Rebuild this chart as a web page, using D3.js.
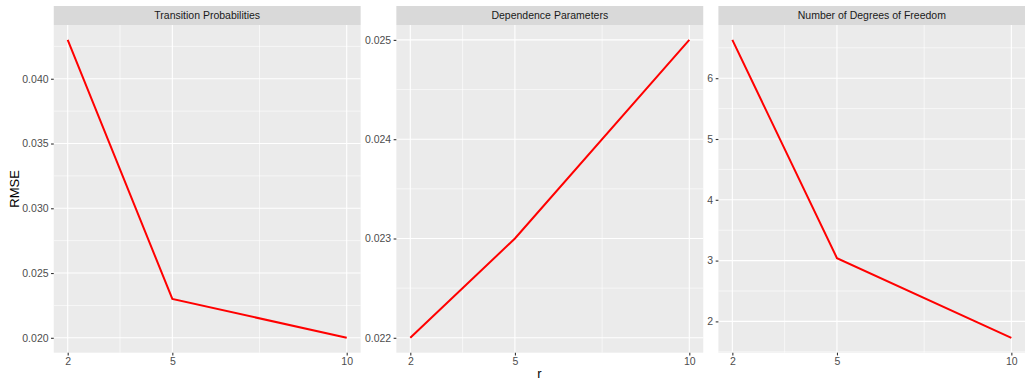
<!DOCTYPE html>
<html>

<head>
    <meta charset="utf-8" />
    <script src="https://d3js.org/d3.v7.min.js"></script>
    <style>
        body { margin: 0; background: #fff; }
        text { font-family: "Liberation Sans", Arial, sans-serif; }
    </style>
</head>

<body>
    <script>
        // data
        const rValues = [2, 5, 10];
        const panelTitles = ['Transition Probabilities', 'Dependence Parameters', 'Number of Degrees of Freedom'];
        const transitionRmse = [0.043, 0.023, 0.020];
        const dependenceRmse = [0.022, 0.023, 0.025];
        const dofRmse = [6.63, 3.04, 1.73];
        const xTicks = [2, 5, 10];
        const xMinorTicks = [3.5, 7.5];
        const yTicks = [
            [0.020, 0.025, 0.030, 0.035, 0.040],
            [0.022, 0.023, 0.024, 0.025],
            [2, 3, 4, 5, 6]
        ];
        const yFormats = ['.3f', '.3f', 'd'];
        const series = [transitionRmse, dependenceRmse, dofRmse];

        // dimensions
        const W = 1025, H = 380;
        const panelLeft = [53.75, 396.35, 718.4];
        const panelW = 306.9;
        const stripTop = 6, panelTop = 25, panelBottom = 352.7;

        const svg = d3.select('body')
            .append('svg')
            .attr('width', W)
            .attr('height', H);

        // expand domain by 5% like ggplot
        function expand(ext) {
            const d = (ext[1] - ext[0]) * 0.05;
            return [ext[0] - d, ext[1] + d];
        }

        // minor breaks halfway between major ones, kept inside the domain
        function minorBreaks(ticks, dom) {
            const step = ticks[1] - ticks[0];
            const out = [];
            for (let v = ticks[0] - step / 2; v <= ticks[ticks.length - 1] + step / 2 + 1e-12; v += step) {
                if (v >= dom[0] && v <= dom[1]) out.push(v);
            }
            return out;
        }

        series.forEach((vals, i) => {
            const g = svg.append('g').attr('transform', `translate(${panelLeft[i]},0)`);

            const xDom = expand(d3.extent(rValues));
            const yDom = expand(d3.extent(vals));
            const x = d3.scaleLinear().domain(xDom).range([0, panelW]);
            const y = d3.scaleLinear().domain(yDom).range([panelBottom, panelTop]);

            // strip
            g.append('rect')
                .attr('x', 0).attr('y', stripTop)
                .attr('width', panelW).attr('height', panelTop - stripTop)
                .attr('fill', '#D9D9D9');
            g.append('text')
                .attr('x', panelW / 2).attr('y', (stripTop + panelTop) / 2)
                .attr('dy', '0.35em')
                .attr('text-anchor', 'middle')
                .style('font-size', '10.5px')
                .attr('fill', '#1A1A1A')
                .text(panelTitles[i]);

            // panel background
            g.append('rect')
                .attr('x', 0).attr('y', panelTop)
                .attr('width', panelW).attr('height', panelBottom - panelTop)
                .attr('fill', '#EBEBEB');

            // minor grid
            g.selectAll('.xminor').data(xMinorTicks).enter().append('line')
                .attr('x1', d => x(d)).attr('x2', d => x(d))
                .attr('y1', panelTop).attr('y2', panelBottom)
                .attr('stroke', '#fff').attr('stroke-width', 0.6);
            g.selectAll('.yminor').data(minorBreaks(yTicks[i], yDom)).enter().append('line')
                .attr('x1', 0).attr('x2', panelW)
                .attr('y1', d => y(d)).attr('y2', d => y(d))
                .attr('stroke', '#fff').attr('stroke-width', 0.6);

            // major grid
            g.selectAll('.xmajor').data(xTicks).enter().append('line')
                .attr('x1', d => x(d)).attr('x2', d => x(d))
                .attr('y1', panelTop).attr('y2', panelBottom)
                .attr('stroke', '#fff').attr('stroke-width', 1.1);
            g.selectAll('.ymajor').data(yTicks[i]).enter().append('line')
                .attr('x1', 0).attr('x2', panelW)
                .attr('y1', d => y(d)).attr('y2', d => y(d))
                .attr('stroke', '#fff').attr('stroke-width', 1.1);

            // line
            g.append('path')
                .datum(rValues.map((r, k) => [r, vals[k]]))
                .attr('fill', 'none')
                .attr('stroke', '#FF0000')
                .attr('stroke-width', 2)
                .attr('d', d3.line().x(d => x(d[0])).y(d => y(d[1])));

            // axes
            const xAxis = g.append('g')
                .attr('transform', `translate(0,${panelBottom})`)
                .call(d3.axisBottom(x).tickValues(xTicks).tickSize(2.7).tickPadding(2.5).tickFormat(d3.format('d')));
            const yAxis = g.append('g')
                .call(d3.axisLeft(y).tickValues(yTicks[i]).tickSize(2.7).tickPadding(2.5).tickFormat(d3.format(yFormats[i])));
            [xAxis, yAxis].forEach(a => {
                a.select('.domain').remove();
                a.selectAll('.tick line').attr('stroke', '#333333').attr('stroke-width', 1.1);
                a.selectAll('.tick text')
                    .attr('fill', '#4D4D4D')
                    .style('font-size', '10.5px')
                    .style('font-family', '"Liberation Sans", Arial, sans-serif');
            });
        });

        // axis titles
        svg.append('text')
            .attr('x', (panelLeft[0] + panelLeft[2] + panelW) / 2)
            .attr('y', 373)
            .attr('dy', '0.35em')
            .attr('text-anchor', 'middle')
            .style('font-size', '13px')
            .attr('fill', '#000')
            .text('r');

        svg.append('text')
            .attr('transform', `translate(14,${(panelTop + panelBottom) / 2}) rotate(-90)`)
            .attr('dy', '0.35em')
            .attr('text-anchor', 'middle')
            .style('font-size', '13px')
            .attr('fill', '#000')
            .text('RMSE');
    </script>
</body>

</html>
